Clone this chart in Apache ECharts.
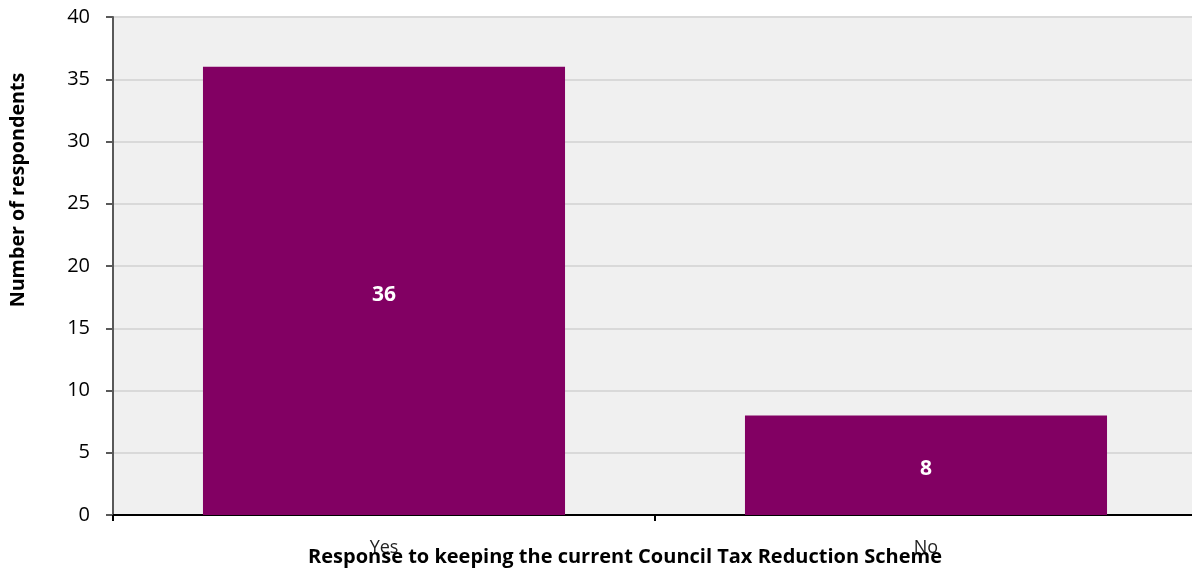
<!DOCTYPE html>
<html><head><meta charset="utf-8">
<script src="https://cdn.jsdelivr.net/npm/echarts@6/dist/echarts.min.js"></script>
<style>html,body{margin:0;padding:0;background:#fff;overflow:hidden}#c{width:1197px;height:569px}</style>
</head><body><div id="c"></div>
<script>
const categories = ["Yes", "No"];
const values = [36, 8];
const yTicks = { min: 0, max: 40, interval: 5 };
const xTitle = "Response to keeping the current Council Tax Reduction Scheme";
const yTitle = "Number of respondents";

const chart = echarts.init(document.getElementById('c'), null, { renderer: 'canvas' });
const font = "'Open Sans', 'Liberation Sans', Arial, sans-serif";
chart.setOption({
  animation: false,
  grid: { left: 113, right: 0, top: 17, bottom: 54, show: true, backgroundColor: '#f0f0f0', borderWidth: 0 },
  title: {
    text: xTitle, left: 620, top: 542, textAlign: 'center',
    textStyle: { fontFamily: font, fontSize: 20, fontWeight: 'bold', color: '#000' }
  },
  graphic: [{
    type: 'text', x: 18, y: 190, rotation: Math.PI / 2,
    style: { text: yTitle, fontFamily: font, fontSize: 19.7, fontWeight: 'bold', fill: '#000', textAlign: 'center', textVerticalAlign: 'middle' }
  }],
  xAxis: {
    type: 'category', data: categories,
    axisLine: { lineStyle: { color: '#000', width: 2 } },
    axisTick: { show: true, length: 6, lineStyle: { color: '#000', width: 2 } },
    axisLabel: { margin: 24, fontFamily: font, fontSize: 18, color: '#222' }
  },
  yAxis: {
    type: 'value', min: yTicks.min, max: yTicks.max, interval: yTicks.interval,
    axisLine: { show: true, lineStyle: { color: '#595959', width: 2 } },
    axisTick: { show: true, length: 7, lineStyle: { color: '#595959', width: 2 } },
    axisLabel: { margin: 23, fontFamily: font, fontSize: 20, color: '#000' },
    splitLine: { lineStyle: { color: '#d9d9d9', width: 2 } }
  },
  series: [{
    type: 'bar', data: values, barWidth: '66.8%',
    itemStyle: { color: '#820063' },
    label: { show: true, position: 'inside', fontFamily: font, fontSize: 21, fontWeight: 'bold', color: '#fff', offset: [0, 4] }
  }]
});
</script></body></html>
